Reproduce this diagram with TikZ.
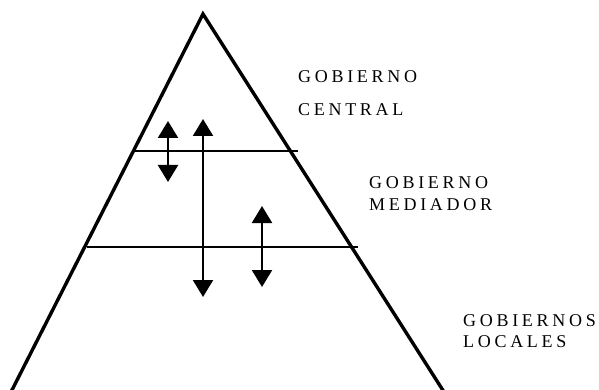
\documentclass[tikz,border=0pt]{standalone}
\usepackage{fontspec}
\setmainfont{Liberation Serif}
\usetikzlibrary{arrows.meta}

% letter-spaced caps
\newcommand\spreadletters[1]{\spreadaux#1\relax}
\def\spreadaux#1{\ifx#1\relax\else#1\hspace{3.7pt}\expandafter\spreadaux\fi}

\tikzset{
  edge/.style={line width=3.4pt, line join=miter},
  level/.style={line width=2.6pt},
  flow/.style={line width=2.2pt,
    {Triangle[width=20pt,length=17pt]}-{Triangle[width=20pt,length=17pt]}},
  tier/.style={anchor=base west, inner sep=0pt,
    font=\fontsize{18}{21}\selectfont}
}

\begin{document}
\begin{tikzpicture}[x=1pt,y=-1pt]
\useasboundingbox (0,0) rectangle (599,390);
\clip (0,0) rectangle (599,390);

% pyramid
\coordinate (apex) at (203,14);
\coordinate (footL) at (11,392);
\coordinate (footR) at (444,392);
\draw [edge] (footL) -- (apex) -- (footR);

% levels
\coordinate (upL) at (132,151);
\coordinate (upR) at (298,151);
\coordinate (lowL) at (87,247);
\coordinate (lowR) at (358,247);
\draw [level] (upL) -- (upR);
\draw [level] (lowL) -- (lowR);

% arrows
\coordinate (a1) at (168,121);
\coordinate (a2) at (168,182);
\coordinate (b1) at (203,119);
\coordinate (b2) at (203,297);
\coordinate (c1) at (262,206);
\coordinate (c2) at (262,287);
\draw [flow] (a1) -- (a2);
\draw [flow] (b1) -- (b2);
\draw [flow] (c1) -- (c2);

% labels
\node [tier] (central1) at (298,83) {\spreadletters{GOBIERNO}};
\node [tier] (central2) at (298,116) {\spreadletters{CENTRAL}};
\node [tier] (mediador1) at (369,188) {\spreadletters{GOBIERNO}};
\node [tier] (mediador2) at (369,210) {\spreadletters{MEDIADOR}};
\node [tier] (locales1) at (463,326) {\spreadletters{GOBIERNOS}};
\node [tier] (locales2) at (463,347) {\spreadletters{LOCALES}};
\end{tikzpicture}
\end{document}
